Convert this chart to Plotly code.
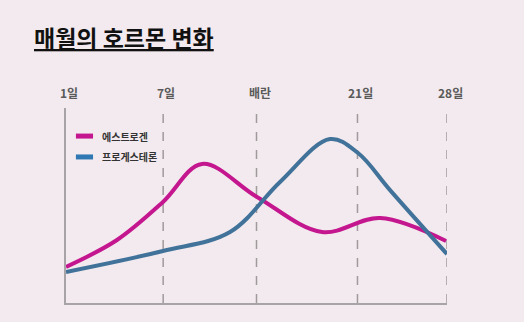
import plotly.graph_objects as go

# Cycle stage labels and their positions along the x axis
tick_labels = ["1일", "7일", "배란", "21일", "28일"]
tick_pos = [0.0, 1.02, 2.0, 3.06, 4.0]

# Estrogen level across the cycle
estrogen_x = [0.0, 0.535, 1.018, 1.428, 2.005, 2.688, 3.297, 3.99]
estrogen_y = [18.5, 32.3, 51.8, 71.3, 54.4, 36.4, 43.6, 31.8]

# Progesterone level across the cycle
progesterone_x = [0.0, 1.018, 1.722, 2.247, 2.772, 3.066, 3.402, 4.0]
progesterone_y = [15.9, 26.7, 36.4, 62.1, 84.1, 76.9, 57.9, 25.1]

series_names = ["에스트로겐", "프로게스테론"]

BG = "#f2eaee"
MAGENTA = "#c4168e"
BLUE = "#41729a"
BLUE_KEY = "#2f78b3"
FONT = "Noto Sans CJK KR"

fig = go.Figure()
fig.add_trace(go.Scatter(x=estrogen_x, y=estrogen_y, mode="lines",
                         name=series_names[0],
                         line=dict(color=MAGENTA, width=4, shape="spline", smoothing=1.0)))
fig.add_trace(go.Scatter(x=progesterone_x, y=progesterone_y, mode="lines",
                         name=series_names[1],
                         line=dict(color=BLUE, width=4, shape="spline", smoothing=1.0)))

shapes = []
# dashed guides at each stage after day 1
for p in tick_pos[1:]:
    shapes.append(dict(type="line", xref="x", yref="paper", x0=p, x1=p, y0=0, y1=1,
                       line=dict(color="#a09a9d", width=1.5, dash="dash"), layer="below"))

annotations = []
for lab, p in zip(tick_labels, tick_pos):
    annotations.append(dict(x=p, y=1.077, xref="x", yref="paper", text=f"<b>{lab}</b>",
                            showarrow=False, xanchor="center", yanchor="middle", xshift=3,
                            font=dict(family=FONT, size=12, color="#5a5a5a")))

# key swatches and labels
for row, (name, col) in enumerate(zip(series_names, [MAGENTA, BLUE_KEY])):
    yk = 0.856 - row * 0.107
    shapes.append(dict(type="line", xref="paper", yref="paper", x0=0.026, x1=0.071,
                       y0=yk, y1=yk, line=dict(color=col, width=5)))
    annotations.append(dict(x=0.089, y=yk, xref="paper", yref="paper", text=f"<b>{name}</b>",
                            showarrow=False, xanchor="left", yanchor="middle",
                            font=dict(family=FONT, size=10, color="#333333")))

# chart title
annotations.append(dict(x=(32 - 66) / 381, y=(303 - 37) / 195, xref="paper", yref="paper",
                        text="<b>매월의 호르몬 변화</b>",
                        showarrow=False, xanchor="left", yanchor="middle",
                        font=dict(family=FONT, size=23, color="#111111", lineposition="under")))

fig.update_layout(
    width=524, height=322,
    margin=dict(l=66, r=77, t=108, b=19),
    paper_bgcolor=BG, plot_bgcolor=BG,
    showlegend=False,
    shapes=shapes, annotations=annotations,
    xaxis=dict(range=[0, 4], showgrid=False, zeroline=False, showticklabels=False,
               ticks="", showline=True, linecolor="#a8a3a6", linewidth=1.5),
    yaxis=dict(range=[0, 100], showgrid=False, zeroline=False, showticklabels=False,
               ticks="", showline=True, linecolor="#a8a3a6", linewidth=1.5),
)

fig.write_html("out.html")
